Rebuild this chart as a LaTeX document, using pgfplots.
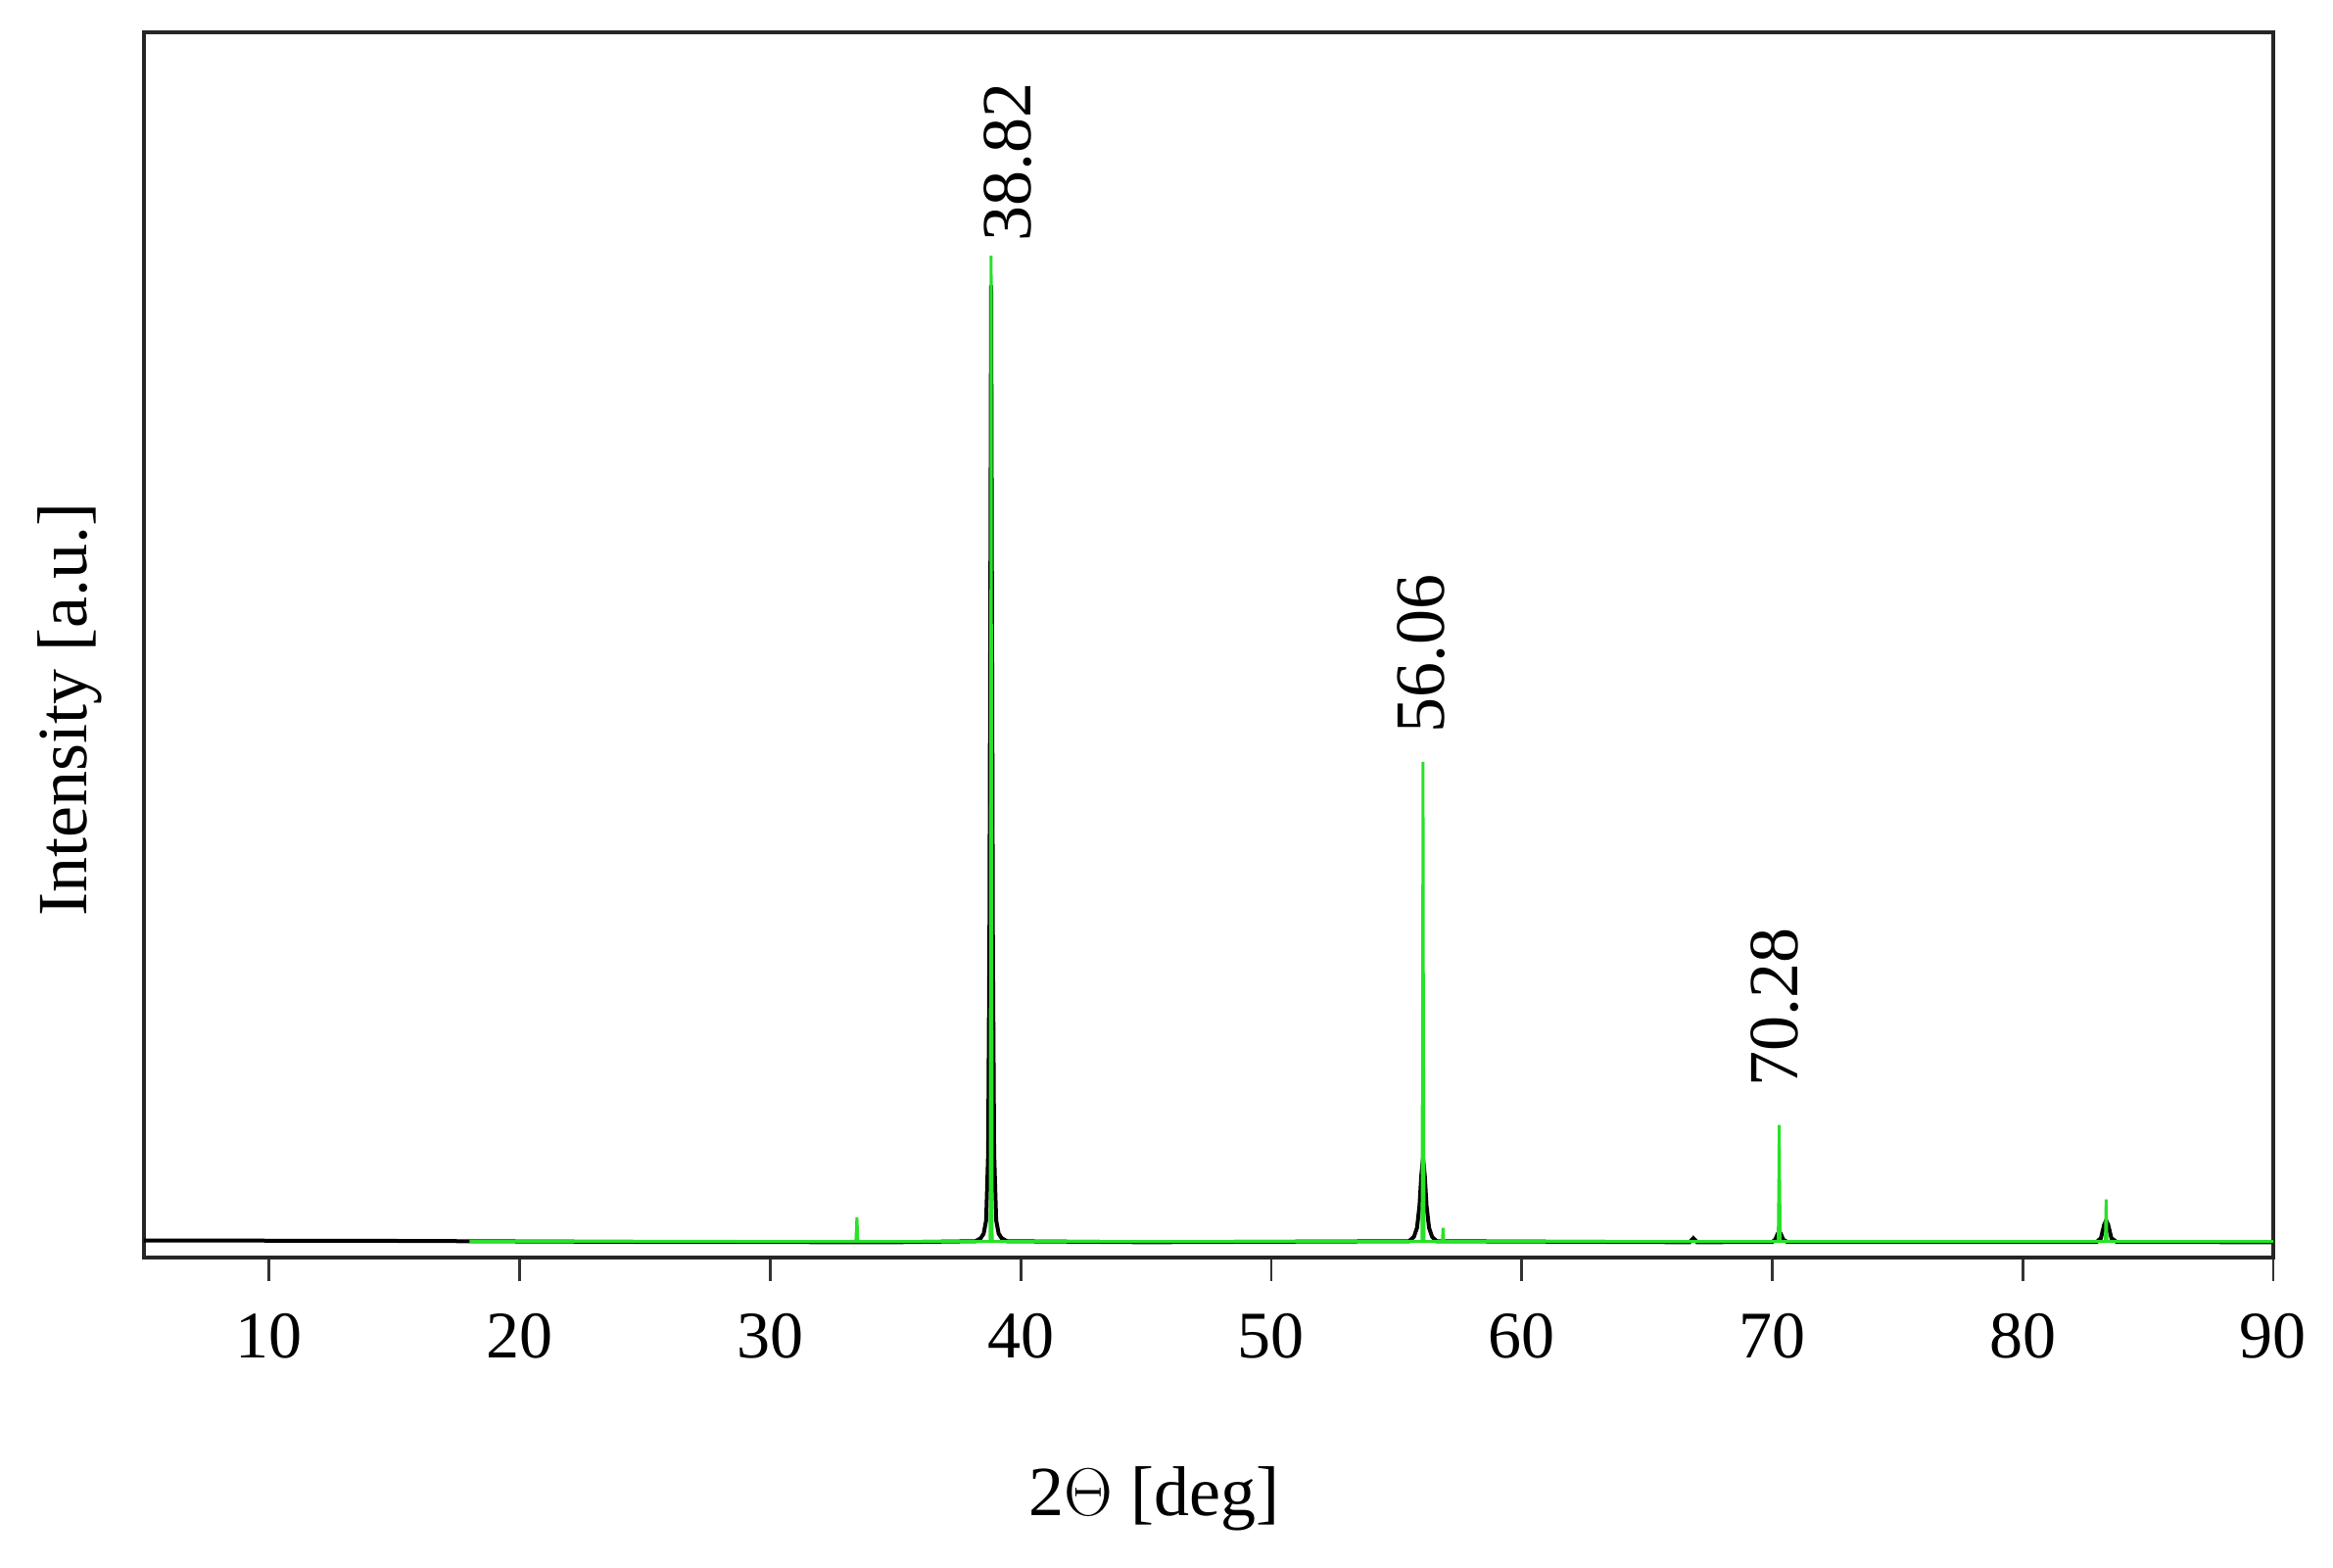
\documentclass[border=0pt]{standalone}
\usepackage{pgfplots}
\pgfplotsset{compat=1.18}
\usepackage{fontspec}
\setmainfont{Liberation Serif}
\definecolor{xgreen}{RGB}{40,225,40}
\begin{document}
\begin{tikzpicture}
\useasboundingbox (-36.75pt,-79pt) rectangle (558.75pt,321pt);
\begin{axis}[
  at={(0,0)}, anchor=south west,
  scale only axis, width=543.5pt, height=312.75pt,
  xmin=5, xmax=90, ymin=-10, ymax=813,
  xtick={10,20,...,90}, ytick=\empty,
  xtick pos=bottom, tick align=outside,
  major tick length=6pt,
  axis line style={line width=0.8pt, black!85},
  every tick/.style={line width=0.7pt, black!80},
  /pgf/number format/assume math mode=true,
  tick label style={font=\fontsize{17}{20}\selectfont},
  xticklabel style={yshift=-4.75pt},
  label style={font=\fontsize{18}{21}\selectfont},
  xlabel={2$\Theta$ [deg]}, ylabel={Intensity [a.u.]},
  xlabel style={at={(axis description cs:0.4745,0)}, yshift=-61.5pt, anchor=center},
  ylabel style={at={(axis description cs:-0.035,0.447)}, anchor=center},
  clip=true,
]
\addplot[black, line width=1pt, sharp plot] coordinates {
(5,1.5)(15,1.2)(25,0.5)(35,0.3)(38.2,1)(38.4,3)(38.52,6)(38.62,15)(38.70,60)(38.75,200)(38.79,450)(38.82,643)(38.85,450)(38.89,200)(38.94,60)(39.02,15)(39.12,6)(39.24,3)(39.45,1)(45,0.3)(55.5,1)(55.7,4)(55.82,10)(55.92,25)(55.99,45)(56.06,57)(56.13,45)(56.20,25)(56.30,10)(56.42,4)(56.6,1)(66.7,0.3)(66.85,3)(67,0.3)(70.0,0.5)(70.12,2)(70.22,6)(70.28,7)(70.34,6)(70.44,2)(70.6,0.5)(82.95,0.5)(83.12,3)(83.25,12)(83.33,15)(83.41,12)(83.54,3)(83.75,0.5)(90,0.3)
};
\addplot[xgreen, line width=0.75pt, sharp plot] coordinates {
(18,1.0)(33.42,0.8)(33.46,17)(33.50,0.8)(38.78,0.8)(38.81,420)(38.82,663)(38.83,420)(38.86,0.8)(56.02,0.8)(56.05,200)(56.06,323)(56.07,200)(56.10,0.8)(56.83,0.8)(56.86,10)(56.89,0.8)(70.24,0.8)(70.27,50)(70.28,79)(70.29,50)(70.32,0.8)(83.30,0.8)(83.33,29)(83.36,0.8)(90,0.8)
};
\node[rotate=90, anchor=west, inner sep=0pt, font=\fontsize{18}{21}\selectfont] at (axis cs:39.5,672) {38.82};
\node[rotate=90, anchor=west, inner sep=0pt, font=\fontsize{18}{21}\selectfont] at (axis cs:56.0,342) {56.06};
\node[rotate=90, anchor=west, inner sep=0pt, font=\fontsize{18}{21}\selectfont] at (axis cs:70.1,104) {70.28};
\end{axis}
\end{tikzpicture}
\end{document}
